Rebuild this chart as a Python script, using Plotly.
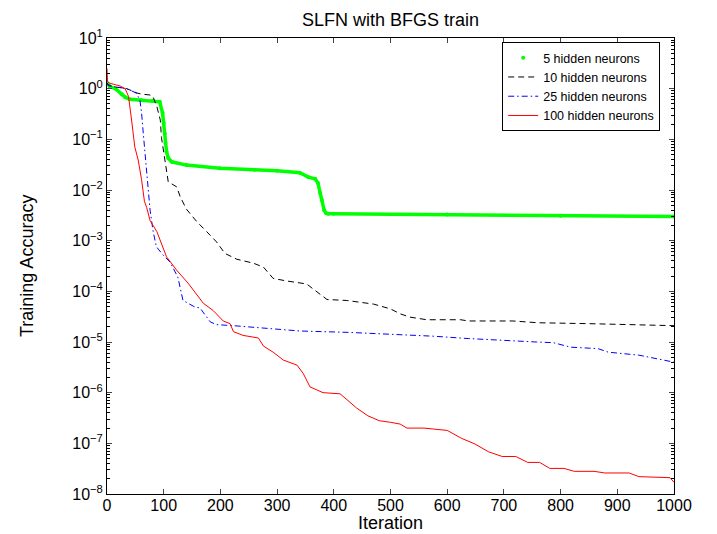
import plotly.graph_objects as go

# ---- data ----
it_g = [0, 5, 15, 26, 32, 40, 60, 80, 93, 98, 100, 102, 103, 105, 108, 114, 140, 199, 260, 300, 340, 355, 367, 372, 376, 379, 383, 386, 390, 400, 600, 800, 1000]
val_g = [1.3, 1.1, 1.0, 0.78, 0.68, 0.62, 0.6, 0.58, 0.55, 0.33, 0.21, 0.13, 0.085, 0.057, 0.043, 0.036, 0.031, 0.027, 0.025, 0.024, 0.022, 0.018, 0.0166, 0.0138, 0.0087, 0.0063, 0.004, 0.0035, 0.0034, 0.0034, 0.0033, 0.0031, 0.003]

it_k = [0, 2, 10, 23, 35, 53, 61, 76, 81, 88, 94, 96, 102, 105, 108, 123, 129, 140, 158, 176, 193, 208, 229, 258, 276, 293, 317, 352, 370, 388, 423, 445, 470, 500, 517, 534, 564, 624, 637, 716, 760, 850, 1000]
val_k = [1.3, 1.2, 1.1, 1.05, 1.0, 0.82, 0.78, 0.75, 0.7, 0.44, 0.24, 0.11, 0.039, 0.023, 0.0145, 0.0115, 7.4e-3, 4.2e-3, 2.4e-3, 1.5e-3, 9.5e-4, 5.6e-4, 4.3e-4, 3.6e-4, 3.0e-4, 1.8e-4, 1.6e-4, 1.4e-4, 9.8e-5, 6.9e-5, 6.6e-5, 6.2e-5, 5.6e-5, 4.5e-5, 3.6e-5, 3.1e-5, 2.75e-5, 2.75e-5, 2.6e-5, 2.6e-5, 2.4e-5, 2.3e-5, 2.1e-5]

it_b = [0, 2, 10, 25, 40, 52, 58, 61, 64, 67, 70, 76, 81, 87, 99, 111, 125, 134, 155, 164, 182, 193, 223, 246, 282, 340, 425, 517, 577, 637, 697, 757, 787, 818, 866, 884, 938, 973, 1000]
val_b = [1.3, 1.15, 1.1, 1.05, 0.95, 0.81, 0.6, 0.33, 0.13, 0.054, 0.021, 4e-3, 1.6e-3, 7.6e-4, 5.2e-4, 3.8e-4, 1.9e-4, 6.6e-5, 4.9e-5, 4.7e-5, 2.5e-5, 2.2e-5, 2.1e-5, 2e-5, 1.85e-5, 1.65e-5, 1.55e-5, 1.4e-5, 1.3e-5, 1.17e-5, 1.07e-5, 1.0e-5, 9.7e-6, 7.9e-6, 7.4e-6, 6.3e-6, 5.5e-6, 4.6e-6, 4.0e-6]

it_r = [0, 1, 5, 15, 23, 32, 38, 44, 49, 55, 61, 66, 70, 76, 88, 105, 123, 143, 170, 187, 205, 217, 223, 240, 267, 276, 293, 311, 335, 346, 358, 381, 411, 425, 440, 460, 480, 500, 517, 529, 559, 600, 625, 649, 673, 697, 721, 742, 763, 781, 806, 824, 859, 878, 921, 938, 993, 1000]
val_r = [2.5, 1.37, 1.28, 1.2, 1.13, 1.0, 0.7, 0.21, 0.071, 0.039, 0.016, 6e-3, 4.5e-3, 2.5e-3, 1.5e-3, 4.8e-4, 2.6e-4, 1.45e-4, 5.8e-5, 4.2e-5, 2.6e-5, 2.3e-5, 1.6e-5, 1.35e-5, 1.2e-5, 8.3e-6, 6.3e-6, 4.4e-6, 3.5e-6, 2.4e-6, 1.3e-6, 1.0e-6, 9.5e-7, 7e-7, 5e-7, 3.5e-7, 2.8e-7, 2.6e-7, 2.4e-7, 2.0e-7, 2.0e-7, 1.8e-7, 1.26e-7, 9.7e-8, 6.8e-8, 5.5e-8, 5.5e-8, 4.2e-8, 4.2e-8, 3.2e-8, 3.2e-8, 2.8e-8, 2.8e-8, 2.6e-8, 2.6e-8, 2.2e-8, 2.1e-8, 1.7e-8]

series_names = ["5 hidden neurons", "10 hidden neurons", "25 hidden neurons", "100 hidden neurons"]
x_ticks = list(range(0, 1001, 100))
y_exps = list(range(-8, 2))
y_ticktext = ["10<sup>%s</sup>" % (str(e).replace("-", "\u2212")) for e in y_exps]

FONT = "Liberation Sans, Arial, sans-serif"
TICK_SIZE = 16
LABEL_SIZE = 18

# page body has an 8px margin: figure is placed at (8, 8)
W, H = 709, 526
L, R, T, B = 99, 43, 30, 40

fig = go.Figure()
fig.add_trace(go.Scatter(x=it_g, y=val_g, mode="lines+markers", showlegend=False,
                         line=dict(color="#00FF00", width=3.5), marker=dict(color="#00FF00", size=4)))
fig.add_trace(go.Scatter(x=[None], y=[None], mode="markers", name=series_names[0],
                         marker=dict(color="#00FF00", size=4)))
fig.add_trace(go.Scatter(x=it_k, y=val_k, mode="lines", name=series_names[1],
                         line=dict(color="black", width=1, dash="6px,4px")))
fig.add_trace(go.Scatter(x=it_b, y=val_b, mode="lines", name=series_names[2],
                         line=dict(color="#0000FF", width=1, dash="6px,3px,1.5px,3px")))
fig.add_trace(go.Scatter(x=it_r, y=val_r, mode="lines", name=series_names[3],
                         line=dict(color="#FF0000", width=1)))

minor_vals = [m * 10 ** e for e in range(-8, 1) for m in range(2, 10)]

fig.update_layout(
    width=W, height=H,
    margin=dict(l=L, r=R, t=T, b=B),
    paper_bgcolor="white", plot_bgcolor="white",
    font=dict(family=FONT, size=TICK_SIZE, color="black"),
    title=dict(text="SLFN with BFGS train", x=(L + (W - R)) / 2 / W, xanchor="center",
               y=1 - 12 / H, yanchor="middle", font=dict(size=LABEL_SIZE)),
    showlegend=True,
    legend=dict(x=0.697, y=0.991, xanchor="left", yanchor="top",
                bordercolor="black", borderwidth=1, bgcolor="white",
                font=dict(size=12.5), tracegroupgap=0, itemwidth=30),
    xaxis=dict(range=[0, 1000], tickvals=x_ticks, ticks="inside", ticklen=5,
               showline=True, linecolor="black", linewidth=1, mirror="ticks",
               showgrid=False, zeroline=False, tickfont=dict(size=TICK_SIZE),
               ticklabelstandoff=-3),
    yaxis=dict(type="log", range=[-8, 1], tickvals=[10 ** e for e in y_exps], ticktext=y_ticktext,
               ticks="inside", ticklen=5, showline=True, linecolor="black", linewidth=1,
               mirror="ticks", showgrid=False, zeroline=False, tickfont=dict(size=TICK_SIZE),
               minor=dict(tickvals=minor_vals, ticks="inside", ticklen=3, tickcolor="black", showgrid=False)),
    annotations=[
        dict(text="Iteration", xref="paper", yref="paper", x=0.5, y=(494 - 523) / 456,
             xanchor="center", yanchor="middle", showarrow=False, font=dict(size=LABEL_SIZE)),
        dict(text="Training Accuracy", xref="paper", yref="paper", x=(27 - 107) / 567, y=0.5,
             xanchor="center", yanchor="middle", textangle=-90, showarrow=False, font=dict(size=LABEL_SIZE)),
    ],
)

fig.write_html("out.html")
